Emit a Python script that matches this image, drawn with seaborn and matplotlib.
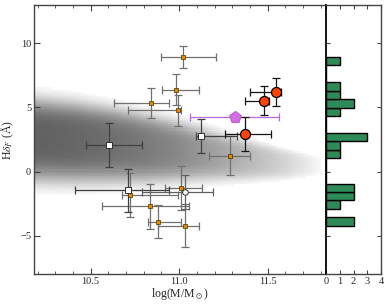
import numpy as np
import pandas as pd
import seaborn as sns
import matplotlib
matplotlib.use("Agg")
import matplotlib.pyplot as plt
from matplotlib.colors import LinearSegmentedColormap

# small orange squares
mass_a = [11.02, 10.983, 10.842, 10.992, 11.289, 10.725, 11.009, 10.834, 10.883, 11.032]
hd_a = [8.95, 6.39, 5.33, 4.78, 1.22, -1.83, -1.29, -2.71, -3.92, -4.23]
mlo_a = [0.125, 0.08, 0.21, 0.28, 0.12, 0.05, 0.09, 0.27, 0.06, 0.15]
mhi_a = [0.19, 0.13, 0.10, 0.02, 0.11, 0.27, 0.12, 0.22, 0.13, 0.08]
hderr_a = [0.84, 1.2, 1.19, 1.2, 1.52, 1.69, 1.75, 1.77, 1.3, 1.67]

# open squares
mass_b = [10.603, 11.125, 10.712]
hd_b = [2.05, 2.8, -1.47]
mlo_b = [0.128, 0.03, 0.30]
mhi_b = [0.187, 0.2, 0.23]
hderr_b = [1.72, 1.33, 1.68]

# open circle
mass_c = [11.032]
hd_c = [-1.6]
mlo_c = [0.24]
mhi_c = [0.16]
hderr_c = [1.3]

# big red circles
mass_r = [11.548, 11.479, 11.37]
hd_r = [6.2, 5.53, 2.92]
mlo_r = [0.146, 0.107, 0.113]
mhi_r = [0.028, 0.03, 0.15]
hderr_r = [1.1, 1.12, 1.33]

# pentagon
mass_p = [11.313]
hd_p = [4.26]
merr_p = [0.25]

# values in the side histogram
hist_hd = [8.95, 6.39, 6.2, 5.53, 5.33, 4.78, 2.92, 2.85, 2.8, 2.05, 1.22,
           -1.29, -1.47, -1.6, -1.83, -2.71, -3.92, -4.23]

# background galaxy band
bg_mass = [10.18, 10.4, 10.6, 10.8, 11.0, 11.2, 11.4, 11.6, 11.8]
bg_center = [2.7, 2.5, 2.3, 2.0, 1.7, 1.35, 1.0, 0.7, 0.5]
bg_up = [3.0, 2.9, 2.7, 2.45, 2.15, 1.8, 1.4, 1.0, 0.7]
bg_dn = [3.4, 3.3, 3.1, 2.8, 2.4, 2.0, 1.6, 1.2, 0.8]
bg_peak = [1.0, 0.97, 0.92, 0.85, 0.75, 0.6, 0.45, 0.28, 0.05]

sns.set_style("ticks")
plt.rcParams['font.family'] = ['Liberation Serif', 'DejaVu Serif']
plt.rcParams['mathtext.fontset'] = 'stix'
plt.rcParams['xtick.direction'] = 'in'
plt.rcParams['ytick.direction'] = 'in'

fig = plt.figure(figsize=(3.9, 3.05), dpi=100)
ax = fig.add_axes([34/390, 31/305, 292/390, 269/305])
axh = fig.add_axes([326/390, 31/305, 55/390, 269/305], sharey=ax)

# grey cloud as a weighted 2d histogram
m_edges = np.arange(10.18, 11.83, 0.012)
h_edges = np.arange(-8, 13.01, 0.16)
mc = (m_edges[:-1] + m_edges[1:]) / 2
hc = (h_edges[:-1] + h_edges[1:]) / 2
M, H = np.meshgrid(mc, hc)
cen = np.interp(M, bg_mass, bg_center)
s = np.where(H > cen, np.interp(M, bg_mass, bg_up), np.interp(M, bg_mass, bg_dn))
pk = np.interp(M, bg_mass, bg_peak)
d = np.abs(H - cen) / s
w = pk * np.exp(-d**4)
bg = pd.DataFrame({'mass': M.ravel(), 'hd': H.ravel(), 'w': w.ravel()})
greys = LinearSegmentedColormap.from_list('g', ['#ffffff', '#3a3a3a'])
sns.histplot(data=bg, x='mass', y='hd', weights='w', bins=[m_edges, h_edges],
             cmap=greys, thresh=0.05, vmin=0, vmax=1.25, ax=ax, zorder=0)

ekw = dict(fmt='none', capsize=3, elinewidth=0.9, capthick=0.9)
ax.errorbar(mass_a, hd_a, xerr=[mlo_a, mhi_a], yerr=hderr_a, ecolor='#707070', **ekw)
ax.errorbar(mass_b, hd_b, xerr=[mlo_b, mhi_b], yerr=hderr_b, ecolor='#404040', **ekw)
ax.errorbar(mass_c, hd_c, xerr=[mlo_c, mhi_c], yerr=hderr_c, ecolor='#606060', **ekw)
ax.errorbar(mass_p, hd_p, xerr=merr_p, ecolor='#b868e0', **ekw)
ax.errorbar(mass_r, hd_r, xerr=[mlo_r, mhi_r], yerr=hderr_r, ecolor='#151515', **ekw)

sns.scatterplot(x=mass_a, y=hd_a, marker='s', s=9, color='#e08a00',
                edgecolor='#4a3000', linewidth=0.5, ax=ax, zorder=4)
sns.scatterplot(x=mass_b, y=hd_b, marker='s', s=13, color='white',
                edgecolor='#303030', linewidth=0.7, ax=ax, zorder=4)
sns.scatterplot(x=mass_c, y=hd_c, marker='o', s=16, color='white',
                edgecolor='#303030', linewidth=0.7, ax=ax, zorder=4)
sns.scatterplot(x=mass_p, y=hd_p, marker='p', s=75, color='#d46ee0',
                edgecolor='#b45cd8', linewidth=0.8, ax=ax, zorder=5)
sns.scatterplot(x=mass_r, y=hd_r, marker='o', s=52, color='#ff4200',
                edgecolor='black', linewidth=0.9, ax=ax, zorder=5)

ax.set_xlim(10.18, 11.83)
ax.set_ylim(-8, 13)
ax.set_xticks([10.5, 11.0, 11.5])
ax.set_xticklabels(['10.5', '11.0', '11.5'])
ax.set_xticks(np.arange(10.2, 11.85, 0.1), minor=True)
ax.set_yticks([-5, 0, 5, 10])
ax.tick_params(which='both', top=True, right=False, labelsize=7.5, color='#444444',
               pad=2)
ax.tick_params(which='major', length=4)
ax.tick_params(which='minor', length=2)
ax.set_xlabel(r'log(M/M$_\odot$)', fontsize=8.5, labelpad=0)
ax.set_ylabel(r'H$\delta_F$ (Å)', fontsize=8.5, labelpad=3)
for sp in ax.spines.values():
    sp.set_color('#444444')
    sp.set_linewidth(1.0)
ax.spines['right'].set_visible(False)

sns.histplot(y=hist_hd, bins=20, ax=axh, color='#2e8b57', edgecolor='black',
             linewidth=1.0, alpha=1)
axh.set_xlim(0, 4)
axh.set_xticks([0, 1, 2, 3, 4])
axh.set_xlabel('')
axh.set_ylabel('')
axh.tick_params(which='both', top=True, right=True, left=True, labelleft=False,
                labelsize=7.5, length=3, color='#444444', pad=2)
axh.tick_params(axis='y', which='minor', length=0)
for sp in axh.spines.values():
    sp.set_color('#444444')
    sp.set_linewidth(1.0)
axh.spines['left'].set_color('black')
axh.spines['left'].set_linewidth(1.3)

fig.savefig('out.png', dpi=100)
